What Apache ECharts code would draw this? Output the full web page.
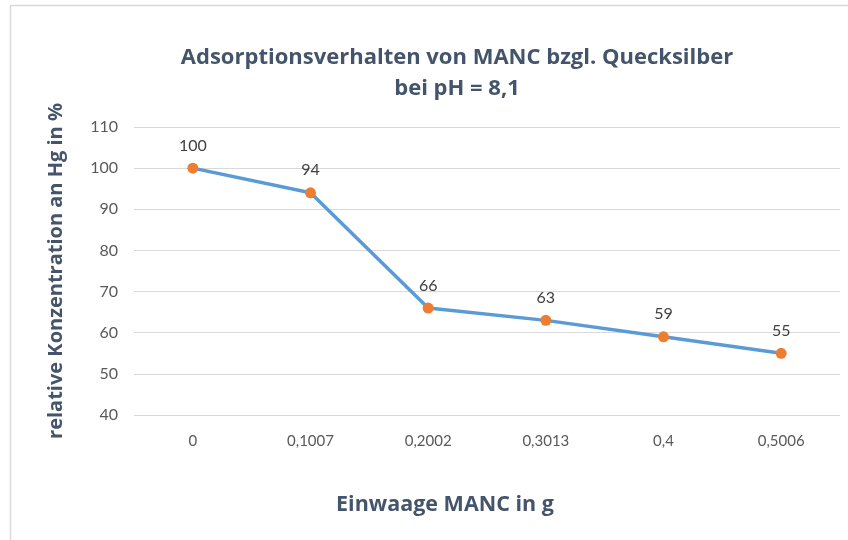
<!DOCTYPE html>
<html>
<head>
<meta charset="utf-8">
<script src="https://cdn.jsdelivr.net/npm/echarts@6/dist/echarts.min.js"></script>
<style>
  html, body { margin: 0; padding: 0; background: #fff; }
  #chart { width: 848px; height: 540px; }
</style>
</head>
<body>
<div id="chart"></div>
<script>
  // Einwaage MANC in g (Kategorien)
  const categories = ['0', '0,1007', '0,2002', '0,3013', '0,4', '0,5006']
  // relative Konzentration an Hg in %
  const concentration = [100, 94, 66, 63, 59, 55]
  const yTicks = { min: 40, max: 110, interval: 10 }

  const font = 'Lato, "Open Sans", sans-serif'
  const titleFont = '"Open Sans", Lato, sans-serif'
  const myChart = echarts.init(document.getElementById('chart'), null, { renderer: 'canvas' })
  myChart.setOption({
    animation: false,
    backgroundColor: '#fff',
    graphic: [{
      type: 'rect',
      shape: { x: 10.5, y: 5.5, width: 900, height: 600 },
      style: { fill: 'none', stroke: '#d9d9d9', lineWidth: 1.5 },
      silent: true
    }],
    title: [{
      text: 'Adsorptionsverhalten von MANC bzgl. Quecksilber\nbei pH = 8,1',
      left: 452,
      top: 37,
      textAlign: 'center',
      textStyle: { fontFamily: titleFont, fontSize: 22, fontWeight: 'bold', color: '#44546a', lineHeight: 31 }
    }, {
      text: 'Einwaage MANC in g',
      left: 440,
      top: 489,
      textAlign: 'center',
      textStyle: { fontFamily: titleFont, fontSize: 21.5, fontWeight: 'bold', color: '#44546a' }
    }],
    grid: { left: 134, right: 8, top: 127, bottom: 125 },
    xAxis: {
      type: 'category',
      data: categories,
      boundaryGap: true,
      axisLine: { show: false },
      axisTick: { show: false },
      axisLabel: { color: '#595959', fontFamily: font, fontSize: 15, margin: 19 }
    },
    yAxis: {
      type: 'value',
      min: yTicks.min,
      max: yTicks.max,
      interval: yTicks.interval,
      name: 'relative Konzentration an Hg in %',
      nameLocation: 'middle',
      nameGap: 68,
      nameTextStyle: { fontFamily: titleFont, fontSize: 20, fontWeight: 'bold', color: '#44546a' },
      axisLine: { show: false },
      axisTick: { show: false },
      axisLabel: { color: '#595959', fontFamily: font, fontSize: 16, margin: 16 },
      splitLine: { lineStyle: { color: '#d9d9d9', width: 1 } }
    },
    series: [{
      type: 'line',
      data: concentration,
      symbol: 'circle',
      symbolSize: 11,
      lineStyle: { color: '#5b9bd5', width: 3.5 },
      itemStyle: { color: '#ed7d31' },
      label: {
        show: true,
        position: 'top',
        distance: 9,
        color: '#404040',
        fontFamily: font,
        fontSize: 16
      }
    }]
  })
</script>
</body>
</html>
